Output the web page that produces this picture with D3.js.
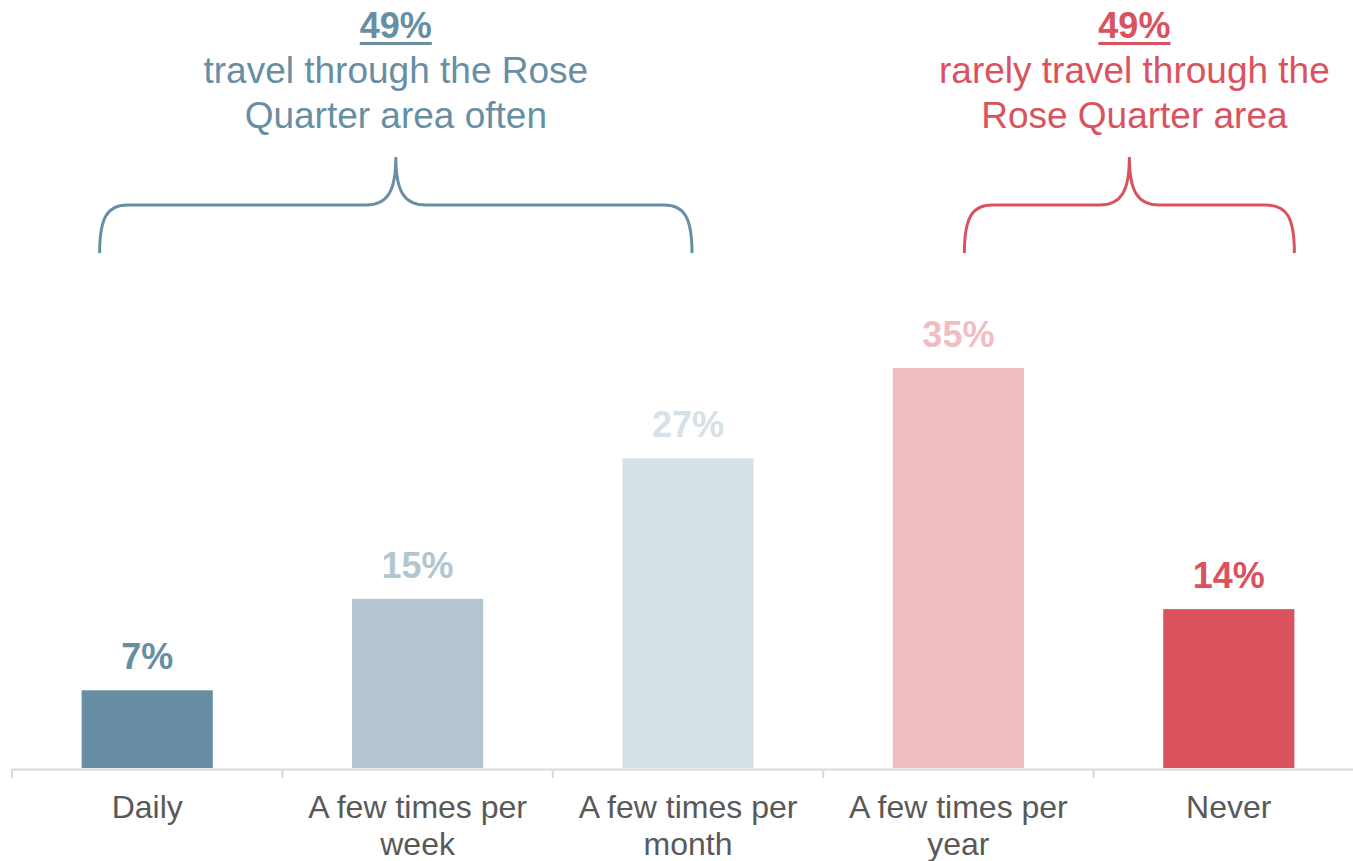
<!DOCTYPE html>
<html>
<head>
<meta charset="utf-8">
<script src="https://cdn.jsdelivr.net/npm/d3@7"></script>
<style>
  body { margin: 0; background: #fff; }
  svg { display: block; font-family: "Liberation Sans", Arial, sans-serif; }
</style>
</head>
<body>
<div id="chart"></div>
<script>
// data
var categories = ["Daily", "A few times per week", "A few times per month", "A few times per year", "Never"];
var values = [6.8, 14.8, 27.1, 35, 13.9];
var barColors = ["#688EA4", "#B3C6CF", "#D6E1E7", "#F0BDC2", "#D9525E"];

var groupValues = [49, 49];
var groupTexts = [
  ["travel through the Rose", "Quarter area often"],
  ["rarely travel through the", "Rose Quarter area"]
];
var groupFrom = ["Daily", "A few times per year"];
var groupTo = ["A few times per month", "Never"];
var groupColors = ["#688EA4", "#D9525E"];

var width = 1353,
    height = 861,
    baseline = 768;

var svg = d3.select("#chart").append("svg")
    .attr("width", width)
    .attr("height", height);

var x = d3.scaleBand()
    .domain(categories)
    .range([12, 1364])
    .paddingInner(0.515)
    .paddingOuter(0.2575);

var y = d3.scaleLinear()
    .domain([0, 35])
    .range([baseline, 368]);

var step = x.step(),
    bw = x.bandwidth(),
    pct = d3.format(".0f");

// bars
svg.selectAll("rect.bar")
    .data(categories)
  .enter().append("rect")
    .attr("class", "bar")
    .attr("x", function(d) { return x(d); })
    .attr("width", bw)
    .attr("y", function(d, i) { return y(values[i]); })
    .attr("height", function(d, i) { return baseline - y(values[i]); })
    .attr("fill", function(d, i) { return barColors[i]; });

// value labels
svg.selectAll("text.value")
    .data(categories)
  .enter().append("text")
    .attr("class", "value")
    .attr("x", function(d) { return x(d) + bw / 2; })
    .attr("y", function(d, i) { return y(values[i]) - 21; })
    .attr("text-anchor", "middle")
    .style("font-size", "36px")
    .style("font-weight", "bold")
    .attr("fill", function(d, i) { return barColors[i]; })
    .text(function(d, i) { return pct(values[i]) + "%"; });

// axis
var axis = svg.append("g").attr("class", "axis");
axis.append("line")
    .attr("x1", 12).attr("x2", width)
    .attr("y1", baseline + 1.5).attr("y2", baseline + 1.5)
    .attr("stroke", "#D9D9D9").attr("stroke-width", 2);

axis.selectAll("line.tick")
    .data(categories)
  .enter().append("line")
    .attr("class", "tick")
    .attr("x1", function(d) { return x(d) - (step - bw) / 2; })
    .attr("x2", function(d) { return x(d) - (step - bw) / 2; })
    .attr("y1", baseline + 1).attr("y2", baseline + 10)
    .attr("stroke", "#D9D9D9").attr("stroke-width", 2);

axis.selectAll("text.cat")
    .data(categories)
  .enter().append("text")
    .attr("class", "cat")
    .attr("x", function(d) { return x(d) + bw / 2; })
    .attr("y", 818)
    .attr("text-anchor", "middle")
    .style("font-size", "32px")
    .attr("fill", "#595959")
    .each(function(d) { wrap(d3.select(this), d, 250, 37); });

function wrap(text, str, maxW, lh) {
  var words = str.split(" "), line = [], n = 0,
      cx = text.attr("x"),
      tspan = text.append("tspan").attr("x", cx).attr("dy", 0);
  words.forEach(function(w) {
    line.push(w);
    tspan.text(line.join(" "));
    if (tspan.node().getComputedTextLength() > maxW && line.length > 1) {
      line.pop();
      tspan.text(line.join(" "));
      line = [w];
      n++;
      tspan = text.append("tspan").attr("x", cx).attr("dy", lh).text(w);
    }
  });
}

// braces + group labels
function brace(x0, x1, xm) {
  var top = 157, mid = 205, bot = 253, c = 28, h = 30;
  return "M" + x0 + "," + bot +
    "C" + x0 + "," + (mid + 12) + " " + (x0 + 8) + "," + mid + " " + (x0 + c) + "," + mid +
    "L" + (xm - h) + "," + mid +
    "C" + (xm - 8) + "," + mid + " " + xm + "," + (mid - 14) + " " + xm + "," + top +
    "C" + xm + "," + (mid - 14) + " " + (xm + 8) + "," + mid + " " + (xm + h) + "," + mid +
    "L" + (x1 - c) + "," + mid +
    "C" + (x1 - 8) + "," + mid + " " + x1 + "," + (mid + 12) + " " + x1 + "," + bot;
}

var braceX0 = [x(groupFrom[0]) + 18, x(groupFrom[1]) + bw / 2 + 6];
var braceX1 = [x(groupTo[0]) + bw / 2 + 4, x(groupTo[1]) + bw];
var textShift = [0, 5];

groupValues.forEach(function(v, i) {
  var x0 = braceX0[i], x1 = braceX1[i], xm = (x0 + x1) / 2, tx = xm + textShift[i];
  var g = svg.append("g").attr("class", "group");

  g.append("path")
      .attr("d", brace(x0, x1, xm))
      .attr("fill", "none")
      .attr("stroke", groupColors[i])
      .attr("stroke-width", 3);

  var head = g.append("text")
      .attr("x", tx).attr("y", 38)
      .attr("text-anchor", "middle")
      .style("font-size", "36px")
      .style("font-weight", "bold")
      .attr("fill", groupColors[i])
      .text(v + "%");
  var tw = head.node().getComputedTextLength();
  g.append("line")
      .attr("x1", tx - tw / 2).attr("x2", tx + tw / 2)
      .attr("y1", 43.5).attr("y2", 43.5)
      .attr("stroke", groupColors[i]).attr("stroke-width", 3);

  g.selectAll("text.sub")
      .data(groupTexts[i])
    .enter().append("text")
      .attr("class", "sub")
      .attr("x", tx)
      .attr("y", function(d, j) { return 83 + j * 44.5; })
      .attr("text-anchor", "middle")
      .style("font-size", "37px")
      .attr("fill", groupColors[i])
      .text(function(d) { return d; });
});
</script>
</body>
</html>
